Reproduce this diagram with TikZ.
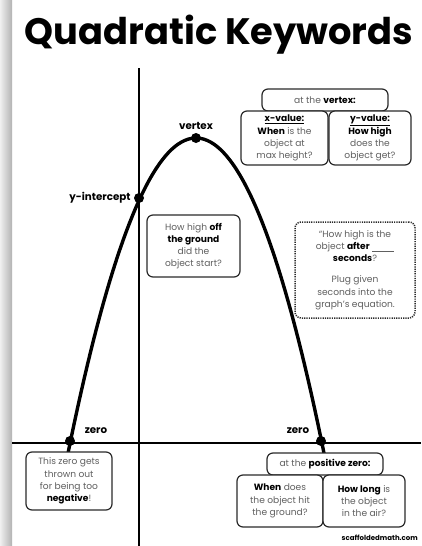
\documentclass[tikz,border=0pt]{standalone}
\usepackage{fontspec}
\setmainfont{Poppins}
\usetikzlibrary{positioning}
\definecolor{txtgray}{HTML}{606060}
\definecolor{boxline}{HTML}{2A2A2A}
\newcommand{\kw}[1]{\textcolor{black}{\bfseries #1}}
\begin{document}
\begin{tikzpicture}[x=1pt,y=-1pt,
    infobox/.style={draw=boxline,line width=1.2pt,rounded corners=6pt,fill=white,
      align=center,inner sep=1pt,font=\fontsize{9.1}{12.2}\selectfont,text=txtgray},
    dotbox/.style={infobox,line width=1.5pt,dash pattern=on 1.2pt off 1.1pt},
    dot/.style={circle,fill=black,inner sep=0pt,minimum size=10pt},
    keylabel/.style={font=\fontsize{10.3}{12}\selectfont\bfseries,text=black,inner sep=1pt}]
  \useasboundingbox (0,0) rectangle (421,546);
  \fill[white] (0,0) rectangle (421,546);
  % page shadow on the left
  \shade[left color=gray!12,right color=gray!60] (0,0) rectangle (12,546);

  % title
  \node (title) at (219,35) {\fontsize{36.8}{40}\selectfont\bfseries Quadratic Keywords};

  % axes
  \coordinate (ytop) at (139,68);
  \coordinate (ybot) at (139,546);
  \coordinate (xleft) at (12,443);
  \coordinate (xright) at (421,443);
  \draw[line width=1.2pt] (ytop) -- (ybot);
  \draw[line width=1.2pt] (xleft) -- (xright);

  % parabola
  \draw[line width=3.4pt] plot[domain=-128:128,samples=80] ({196+\x},{138+303*(\x/125.5)^2});

  % points on the curve
  \node[dot] (vtx) at (196,138) {};
  \node[dot] (yint) at (139,198) {};
  \node[dot] (zleft) at (70,441) {};
  \node[dot] (zright) at (321,441) {};

  % labels
  \node[keylabel,above=2pt of vtx] (vtxlab) {vertex};
  \node[keylabel,left=2pt of yint] (yintlab) {y-intercept};
  \node[keylabel] (zleftlab) at (96,431) {zero};
  \node[keylabel] (zrightlab) at (298,431) {zero};

  % vertex boxes
  \node[infobox,minimum width=126pt,minimum height=22pt] (vtxtop) at (325,100)
    {at the \kw{vertex:}};
  \node[infobox,minimum width=87pt,minimum height=54pt] (xval) at (284.5,138)
    {\kw{\underline{x-value:}}\\\kw{When} is the\\object at\\max height?};
  \node[infobox,minimum width=82pt,minimum height=54pt] (yval) at (370,138)
    {\kw{\underline{y-value:}}\\\kw{How high}\\does the\\object get?};

  % y-intercept box
  \node[infobox,minimum width=93pt,minimum height=62pt] (startbox) at (193.5,246)
    {How high \kw{off}\\\kw{the ground}\\did the\\object start?};

  % any point box
  \node[dotbox,minimum width=120pt,minimum height=96pt] (afterbox) at (355,270)
    {``How high is the\\object \kw{after} \underline{\hspace{22pt}}\\\kw{seconds}?\\[9pt]Plug given\\seconds into the\\graph's equation.};

  % zero boxes
  \node[infobox,minimum width=86pt,minimum height=58pt] (negbox) at (69,481)
    {This zero gets\\thrown out\\for being too\\\kw{negative}!};
  \node[infobox,minimum width=116pt,minimum height=22pt] (pztop) at (325,464)
    {at the \kw{positive zero:}};
  \node[infobox,minimum width=86pt,minimum height=52pt] (whenbox) at (280,501)
    {\kw{When} does\\the object hit\\the ground?};
  \node[infobox,minimum width=82pt,minimum height=52pt] (longbox) at (364,501)
    {\kw{How long} is\\the object\\in the air?};

  % footer
  \node[anchor=east,font=\fontsize{7}{8}\selectfont\bfseries,inner sep=0pt] (site) at (418,538)
    {scaffoldedmath.com};
\end{tikzpicture}
\end{document}
